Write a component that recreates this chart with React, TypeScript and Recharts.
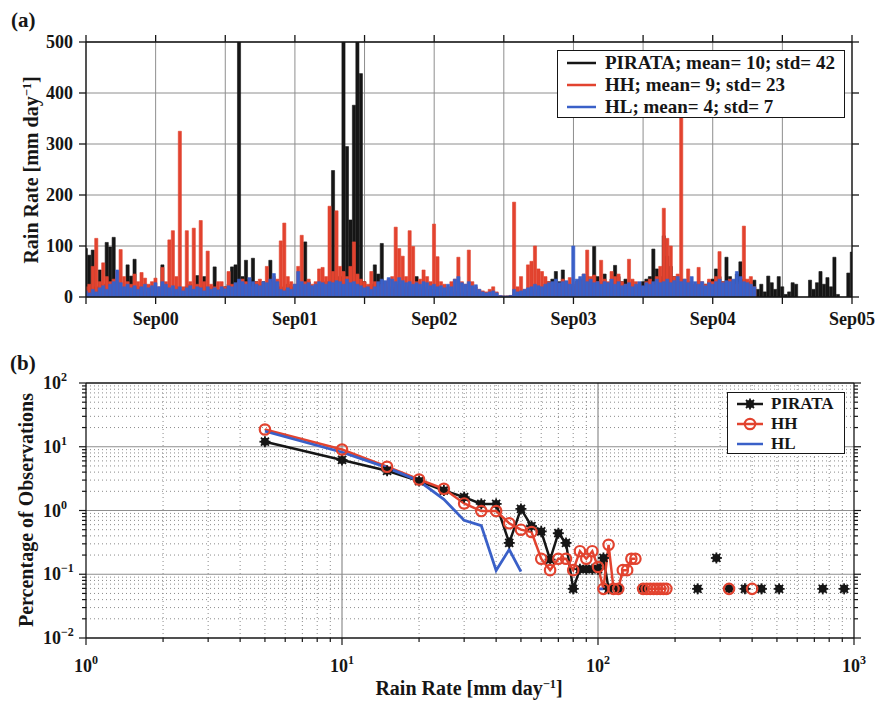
import React from 'react'
import {
  ComposedChart,
  Bar,
  Line,
  XAxis,
  YAxis,
  CartesianGrid,
  ReferenceLine,
  Legend
} from 'recharts'

const FONT = "'Liberation Serif', 'Times New Roman', serif"
const BLACK = '#161616'
const RED = '#e2432f'
const BLUE = '#3a60c8'
const GRID = '#8e8e8e'

// ---- panel (a): rain rate time series, one sample every 1/40 year from Mar 2000 (t=0 is Sep00)
const sampleStart = -0.5
const samplesPerYear = 40

const pirataRain = [
  95, 82, 92, 20, 53, 25, 107, 98, 117, 30,
  20, 15, 63, 41, 74, 20, 15, 10, 12, 18,
  15, 10, 63, 20, 15, 12, 20, 10, 15, 20,
  25, 15, 42, 20, 40, 15, 20, 59, 15, 10,
  20, 25, 59, 63, 620, 40, 72, 35, 76, 30,
  25, 30, 20, 72, 30, 25, 20, 15, 25, 20,
  15, 25, 20, 108, 30, 20, 15, 25, 20, 30,
  25, 248, 40, 40, 620, 295, 151, 376, 620, 438,
  30, 20, 25, 63, 45, 105, 30, 20, 15, 20,
  25, 15, 20, 25, 20, 40, 15, 20, 15, 10,
  15, 10, 8, 10, 12, 8, 10, 12, 8, 10,
  12, 8, 10, 8, 5, 5, 3, 2, 2, 2,
  2, 2, 3, 5, 8, 10, 10, 12, 15, 10,
  15, 20, 25, 30, 35, 50, 30, 53, 30, 25,
  20, 30, 35, 25, 40, 30, 99, 40, 30, 45,
  25, 35, 62, 40, 30, 35, 25, 30, 20, 25,
  30, 35, 40, 94, 55, 40, 120, 80, 60, 40,
  30, 35, 25, 30, 20, 25, 30, 20, 25, 30,
  35, 55, 40, 30, 78, 40, 30, 45, 69, 35,
  25, 30, 33, 15, 25, 10, 41, 28, 15, 40,
  20, 5, 10, 28, 25, 0, 0, 0, 33, 15,
  28, 50, 25, 38, 20, 78, 5, 0, 0, 47, 88
]

const hhRain = [
  20, 25, 60, 115, 30, 67, 40, 30, 35, 50,
  93, 40, 30, 25, 45, 30, 48, 37, 25, 30,
  37, 20, 58, 30, 112, 130, 40, 325, 20, 130,
  30, 135, 25, 150, 30, 90, 25, 20, 30, 30,
  20, 50, 25, 20, 30, 35, 30, 25, 20, 30,
  35, 25, 60, 30, 40, 35, 110, 145, 40, 30,
  25, 60, 121, 30, 35, 25, 30, 55, 58, 40,
  178, 50, 169, 60, 50, 40, 60, 108, 45, 35,
  30, 25, 50, 30, 20, 25, 30, 35, 40, 137,
  95, 80, 40, 130, 99, 30, 35, 53, 40, 30,
  143, 79, 30, 25, 20, 30, 35, 78, 30, 25,
  92, 30, 20, 15, 12, 10, 15, 20, 10, 3,
  2, 2, 3, 186, 20, 40, 15, 63, 70, 100,
  55, 50, 40, 30, 25, 30, 20, 35, 30, 38,
  25, 30, 35, 45, 92, 40, 43, 30, 72, 35,
  30, 50, 40, 45, 30, 25, 74, 35, 30, 25,
  20, 30, 35, 25, 40, 60, 174, 115, 100, 40,
  45, 360, 35, 55, 30, 25, 58, 30, 25, 35,
  30, 40, 89, 30, 25, 35, 30, 25, 30, 139,
  35, 40, 20
]

const hlRain = [
  12, 8, 15, 10, 18, 22, 15, 25, 30, 53,
  28, 20, 25, 18, 22, 15, 20, 25, 18, 22,
  28, 20, 30, 25, 18, 22, 15, 20, 12, 18,
  22, 15, 20, 18, 12, 20, 15, 18, 14, 20,
  16, 22, 20, 28, 35, 30, 25, 38, 30, 25,
  22, 30, 28, 35, 46, 30, 15, 12, 18, 15,
  25, 50, 30, 25, 28, 22, 25, 30, 28, 25,
  30, 28, 32, 30, 25, 35, 28, 30, 25, 22,
  18, 20, 15, 20, 30, 35, 32, 38, 35, 30,
  38, 32, 28, 30, 25, 28, 25, 30, 28, 22,
  25, 20, 22, 18, 25, 20, 35, 40, 28, 25,
  30, 22, 24, 15, 10, 8, 10, 12, 8, 3,
  2, 2, 3, 15, 10, 12, 15, 18, 20, 25,
  22, 20, 25, 28, 30, 35, 28, 30, 32, 25,
  100, 35, 40, 45, 30, 35, 28, 30, 25, 30,
  28, 35, 25, 30, 22, 25, 28, 20, 25, 30,
  22, 28, 25, 30, 35, 28, 30, 35, 28, 32,
  40, 30, 35, 28, 40, 30, 25, 30, 22, 28,
  25, 30, 35, 28, 32, 30, 35, 50, 40, 30,
  28, 25, 20
]

const timeTicks = [-0.5, 0, 0.5, 1, 1.5, 2, 2.5, 3, 3.5, 4, 4.5, 5]
const timeTickLabels = ['', 'Sep00', '', 'Sep01', '', 'Sep02', '', 'Sep03', '', 'Sep04', '', 'Sep05']
const rainTicks = [0, 100, 200, 300, 400, 500]

const seriesNames = ['PIRATA', 'HH', 'HL']
const seriesColors = [BLACK, RED, BLUE]
const seriesMean = [10, 9, 4]
const seriesStd = [42, 23, 7]

// ---- panel (b): distribution of rain rates (gaps = empty bins)
const pirataRate = [5, 10, 15, 20, 25, 30, 35, 40, 45, 50, 55, 60, 65, 70, 75, 80, 85, 90, 95, 100, 105, 110, 115, 120, 125, 150, 155, 245, 250, 290, 295, 325, 330, 375, 380, 435, 440, 510, 515, 755, 760, 915]
const pirataPct = [12, 6.2, 4.2, 2.9, 2.06, 1.62, 1.27, 1.27, 0.31, 1.06, 0.57, 0.47, 0.17, 0.44, 0.31, 0.059, 0.12, 0.12, 0.12, 0.12, 0.18, 0.059, null, 0.059, null, 0.059, null, 0.059, null, 0.18, null, 0.059, null, 0.059, null, 0.059, null, 0.059, null, 0.059, null, 0.059]

const hhRate = [5, 10, 15, 20, 25, 30, 35, 40, 45, 50, 55, 60, 65, 70, 75, 80, 85, 90, 95, 100, 105, 110, 115, 120, 125, 130, 135, 140, 145, 150, 155, 160, 165, 170, 175, 180, 185, 190, 325, 330, 400]
const hhPct = [18.6, 9.06, 4.85, 3.06, 2.19, 1.29, 0.98, 0.98, 0.63, 0.5, 0.46, 0.175, 0.116, 0.175, 0.175, 0.116, 0.23, 0.175, 0.23, 0.13, 0.059, 0.29, 0.059, 0.059, 0.116, 0.116, 0.175, 0.175, null, 0.059, 0.059, 0.059, 0.059, 0.059, 0.059, 0.059, 0.059, null, 0.059, null, 0.059]

const hlRate = [5, 10, 15, 20, 25, 30, 35, 40, 45, 50, 55, 100, 105]
const hlPct = [17.5, 8.2, 4.7, 2.9, 1.5, 0.7, 0.58, 0.115, 0.245, 0.11, null, 0.059, 0.059]

const rateMajor = [1, 10, 100, 1000]
const rateExp = ['0', '1', '2', '3']
const rateMinor = [2, 3, 4, 5, 6, 7, 8, 9, 20, 30, 40, 50, 60, 70, 80, 90, 200, 300, 400, 500, 600, 700, 800, 900]
const pctMajor = [0.01, 0.1, 1, 10, 100]
const pctExp = ['\u22122', '\u22121', '0', '1', '2']
const pctMinor = [0.02, 0.03, 0.04, 0.05, 0.06, 0.07, 0.08, 0.09, 0.2, 0.3, 0.4, 0.5, 0.6, 0.7, 0.8, 0.9, 2, 3, 4, 5, 6, 7, 8, 9, 20, 30, 40, 50, 60, 70, 80, 90]
const rateTicks = [...rateMajor, ...rateMinor].sort((a, b) => a - b)
const pctTicks = [...pctMajor, ...pctMinor].sort((a, b) => a - b)

const timeData = pirataRain.map((p, i) => ({
  t: sampleStart + i / samplesPerYear,
  pirata: p,
  hh: i < hhRain.length ? hhRain[i] : null,
  hl: i < hlRain.length ? hlRain[i] : null
}))

const toDist = (rate: number[], pct: (number | null)[]) => rate.map((r, i) => ({ rate: r, pct: pct[i] }))
const pirataDist = toDist(pirataRate, pirataPct)
const hhDist = toDist(hhRate, hhPct)
const hlDist = toDist(hlRate, hlPct)

const bold = { fontFamily: FONT, fontWeight: 'bold' as const, color: BLACK }

function NoLabel() {
  return <g />
}

function StarDot(props: any) {
  const { cx, cy, index } = props
  if (cx == null || cy == null || isNaN(cy)) return <g key={`s${index}`} />
  return (
    <g key={`s${index}`}>
      <circle cx={cx} cy={cy} r={4} fill={BLACK} />
      <line x1={cx - 5.5} x2={cx + 5.5} y1={cy} y2={cy} stroke={BLACK} strokeWidth={1.8} />
      <line x1={cx} x2={cx} y1={cy - 5.5} y2={cy + 5.5} stroke={BLACK} strokeWidth={1.8} />
      <line x1={cx - 4} x2={cx + 4} y1={cy - 4} y2={cy + 4} stroke={BLACK} strokeWidth={1.8} />
      <line x1={cx - 4} x2={cx + 4} y1={cy + 4} y2={cy - 4} stroke={BLACK} strokeWidth={1.8} />
    </g>
  )
}

function CircleDot(props: any) {
  const { cx, cy, index } = props
  if (cx == null || cy == null || isNaN(cy)) return <g key={`c${index}`} />
  return <circle key={`c${index}`} cx={cx} cy={cy} r={5.2} fill="none" stroke={RED} strokeWidth={2.2} />
}

function BottomTick(props: any) {
  const { x, y, payload } = props
  const k = rateMajor.indexOf(payload.value)
  return (
    <g>
      <line x1={x} x2={x} y1={y} y2={y + (k >= 0 ? 7 : 4)} stroke={BLACK} strokeWidth={1.2} />
      {k >= 0 && (
        <text x={x} y={y + 34} textAnchor="middle" fontFamily={FONT} fontWeight="bold" fontSize={18} fill={BLACK}>
          10<tspan fontSize={12} dy={-8}>{rateExp[k]}</tspan>
        </text>
      )}
    </g>
  )
}

function TopTick(props: any) {
  const { x, y, payload } = props
  const major = rateMajor.indexOf(payload.value) >= 0
  return <line x1={x} x2={x} y1={y} y2={y - (major ? 7 : 4)} stroke={BLACK} strokeWidth={1.2} />
}

function LeftTick(props: any) {
  const { x, y, payload } = props
  const k = pctMajor.indexOf(payload.value)
  return (
    <g>
      <line x1={x} x2={x - (k >= 0 ? 7 : 4)} y1={y} y2={y} stroke={BLACK} strokeWidth={1.2} />
      {k >= 0 && (
        <text x={x - 43} y={y + 6} textAnchor="start" fontFamily={FONT} fontWeight="bold" fontSize={18} fill={BLACK}>
          10<tspan fontSize={12} dy={-8}>{pctExp[k]}</tspan>
        </text>
      )}
    </g>
  )
}

function RightTick(props: any) {
  const { x, y, payload } = props
  const major = pctMajor.indexOf(payload.value) >= 0
  return <line x1={x} x2={x + (major ? 7 : 4)} y1={y} y2={y} stroke={BLACK} strokeWidth={1.2} />
}

function RainLegend() {
  return (
    <div style={{ ...bold, boxSizing: 'border-box', width: 288, height: 68, border: `1px solid ${BLACK}`, background: '#fff', paddingTop: 1, fontSize: 19 }}>
      {seriesNames.map((n, i) => (
        <div key={n} style={{ display: 'flex', alignItems: 'center', height: 22, lineHeight: '22px' }}>
          <svg width={47} height={22}>
            <line x1={9} x2={38} y1={11} y2={11} stroke={seriesColors[i]} strokeWidth={2.5} />
          </svg>
          <span style={{ whiteSpace: 'nowrap' }}>{`${n}; mean= ${seriesMean[i]}; std= ${seriesStd[i]}`}</span>
        </div>
      ))}
    </div>
  )
}

function DistLegend() {
  return (
    <div style={{ ...bold, boxSizing: 'border-box', width: 118, height: 62, border: `1px solid ${BLACK}`, background: '#fff', paddingTop: 1, fontSize: 17 }}>
      {seriesNames.map((n, i) => (
        <div key={n} style={{ display: 'flex', alignItems: 'center', height: 20, lineHeight: '20px' }}>
          <svg width={43} height={20}>
            <line x1={9} x2={35} y1={10} y2={10} stroke={seriesColors[i]} strokeWidth={2.5} />
            {i === 0 && <StarDot cx={22} cy={10} index={0} />}
            {i === 1 && <CircleDot cx={22} cy={10} index={0} />}
          </svg>
          <span>{n}</span>
        </div>
      ))}
    </div>
  )
}

function RotatedTitle({ cx, cy, size, children }: { cx: number; cy: number; size: number; children: React.ReactNode }) {
  return (
    <div style={{ ...bold, position: 'absolute', left: cx - 150, top: cy - size * 0.6, width: 300, height: size * 1.2, lineHeight: `${size * 1.2}px`, fontSize: size, textAlign: 'center', transform: 'rotate(-90deg)', whiteSpace: 'nowrap' }}>
      {children}
    </div>
  )
}

const sup = { fontSize: '0.62em', verticalAlign: '0.6em' }

export default function App() {
  return (
    <div style={{ position: 'absolute', left: 0, top: 0, width: 877, height: 703, background: '#fff', overflow: 'hidden' }}>
      <div style={{ ...bold, position: 'absolute', left: 11, top: 8, fontSize: 21 }}>(a)</div>
      <div style={{ ...bold, position: 'absolute', left: 10, top: 351, fontSize: 21 }}>(b)</div>

      <div style={{ position: 'absolute', left: 0, top: 0 }}>
        <ComposedChart width={877} height={350} data={timeData} margin={{ top: 41, right: 24, bottom: 23, left: 0 }}>
          <CartesianGrid stroke={GRID} strokeWidth={1} />
          <XAxis
            xAxisId={0}
            dataKey="t"
            type="number"
            domain={[-0.5, 5]}
            ticks={timeTicks}
            interval={0}
            allowDataOverflow
            tickFormatter={(v: number) => timeTickLabels[timeTicks.indexOf(v)] ?? ''}
            tickSize={7}
            tickMargin={8}
            height={30}
            stroke={BLACK}
            strokeWidth={1.3}
            tick={{ fill: BLACK, fontSize: 18, fontWeight: 'bold', fontFamily: FONT }}
          />
          <XAxis xAxisId="hh" dataKey="t" type="number" domain={[-0.5, 5]} allowDataOverflow hide />
          <XAxis xAxisId="hl" dataKey="t" type="number" domain={[-0.5, 5]} allowDataOverflow hide />
          <XAxis
            xAxisId="top"
            orientation="top"
            dataKey="t"
            type="number"
            domain={[-0.5, 5]}
            ticks={timeTicks}
            interval={0}
            allowDataOverflow
            height={1}
            tickSize={7}
            tick={NoLabel}
            stroke={BLACK}
            strokeWidth={1.3}
          />
          <YAxis
            yAxisId={0}
            type="number"
            domain={[0, 500]}
            ticks={rainTicks}
            interval={0}
            allowDataOverflow
            width={86}
            tickSize={7}
            tickMargin={6}
            stroke={BLACK}
            strokeWidth={1.3}
            tick={{ fill: BLACK, fontSize: 18, fontWeight: 'bold', fontFamily: FONT }}
          />
          <YAxis
            yAxisId="right"
            orientation="right"
            type="number"
            domain={[0, 500]}
            ticks={rainTicks}
            interval={0}
            allowDataOverflow
            width={1}
            tickSize={7}
            tick={NoLabel}
            stroke={BLACK}
            strokeWidth={1.3}
          />
          <Bar dataKey="pirata" xAxisId={0} fill={BLACK} stroke={BLACK} strokeWidth={0.6} barSize={4} isAnimationActive={false} />
          <Bar dataKey="hh" xAxisId="hh" fill={RED} stroke={RED} strokeWidth={0.6} barSize={4} isAnimationActive={false} />
          <Bar dataKey="hl" xAxisId="hl" fill={BLUE} stroke={BLUE} strokeWidth={0.6} barSize={4} isAnimationActive={false} />
          <Legend
            content={<RainLegend />}
            layout="vertical"
            align="center"
            verticalAlign="middle"
            wrapperStyle={{ left: 557, top: 50, width: 288, height: 68 }}
          />
        </ComposedChart>
      </div>

      <div style={{ position: 'absolute', left: 0, top: 350 }}>
        <ComposedChart width={877} height={353} margin={{ top: 32, right: 22, bottom: 25, left: 0 }}>
          {rateMinor.map(v => (
            <ReferenceLine key={`vx${v}`} x={v} stroke="#8a8a8a" strokeDasharray="1 3" />
          ))}
          {pctMinor.map(v => (
            <ReferenceLine key={`hy${v}`} y={v} stroke="#8a8a8a" strokeDasharray="1 3" />
          ))}
          {rateMajor.slice(1, -1).map(v => (
            <ReferenceLine key={`VX${v}`} x={v} stroke={GRID} strokeWidth={1.2} />
          ))}
          {pctMajor.slice(1, -1).map(v => (
            <ReferenceLine key={`HY${v}`} y={v} stroke={GRID} strokeWidth={1.2} />
          ))}
          <XAxis
            dataKey="rate"
            type="number"
            scale="log"
            domain={[1, 1000]}
            ticks={rateTicks}
            interval={0}
            allowDataOverflow
            height={40}
            tickLine={false}
            tickSize={0}
            tickMargin={0}
            tick={BottomTick}
            stroke={BLACK}
            strokeWidth={1.3}
          />
          <XAxis
            xAxisId="top"
            orientation="top"
            type="number"
            scale="log"
            domain={[1, 1000]}
            ticks={rateTicks}
            interval={0}
            allowDataOverflow
            height={1}
            tickLine={false}
            tickSize={0}
            tickMargin={0}
            tick={TopTick}
            stroke={BLACK}
            strokeWidth={1.3}
          />
          <YAxis
            type="number"
            scale="log"
            domain={[0.01, 100]}
            ticks={pctTicks}
            interval={0}
            allowDataOverflow
            width={86}
            tickLine={false}
            tickSize={0}
            tickMargin={0}
            tick={LeftTick}
            stroke={BLACK}
            strokeWidth={1.3}
          />
          <YAxis
            yAxisId="right"
            orientation="right"
            type="number"
            scale="log"
            domain={[0.01, 100]}
            ticks={pctTicks}
            interval={0}
            allowDataOverflow
            width={1}
            tickLine={false}
            tickSize={0}
            tickMargin={0}
            tick={RightTick}
            stroke={BLACK}
            strokeWidth={1.3}
          />
          <Line data={pirataDist} dataKey="pct" stroke={BLACK} strokeWidth={2.5} dot={StarDot} connectNulls={false} isAnimationActive={false} />
          <Line data={hhDist} dataKey="pct" stroke={RED} strokeWidth={2.5} dot={CircleDot} connectNulls={false} isAnimationActive={false} />
          <Line data={hlDist} dataKey="pct" stroke={BLUE} strokeWidth={2.8} dot={false} connectNulls={false} isAnimationActive={false} />
          <Legend
            content={<DistLegend />}
            layout="vertical"
            align="center"
            verticalAlign="middle"
            wrapperStyle={{ left: 727, top: 42, width: 118, height: 62 }}
          />
        </ComposedChart>
      </div>

      <RotatedTitle cx={27} cy={170} size={20}>
        Rain Rate [mm day<span style={sup}>{'\u22121'}</span>]
      </RotatedTitle>
      <RotatedTitle cx={26} cy={510} size={20}>
        Percentage of Observations
      </RotatedTitle>
      <div style={{ ...bold, position: 'absolute', left: 319, top: 677, width: 300, textAlign: 'center', fontSize: 20, whiteSpace: 'nowrap' }}>
        Rain Rate [mm day<span style={sup}>{'\u22121'}</span>]
      </div>
    </div>
  )
}
